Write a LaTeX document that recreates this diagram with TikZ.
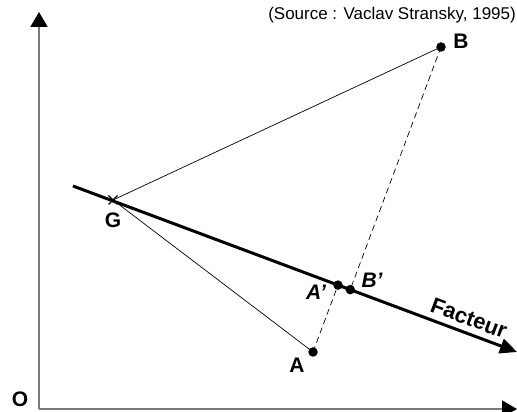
\documentclass[tikz,border=0pt]{standalone}
\usepackage{fontspec}
\setmainfont{Liberation Sans}
\usetikzlibrary{calc,arrows.meta}
\definecolor{AxisGray}{HTML}{7A7A7A}
\tikzset{
  axis/.style={AxisGray,line width=1.6pt,-{Triangle[length=15pt,width=17pt,color=black]}},
  factor/.style={line width=3pt,-{Triangle[length=17pt,width=15pt]}},
  dot/.style={circle,fill=black,inner sep=0pt,minimum size=9.5pt},
  proj/.style={dash pattern=on 6pt off 4pt,line width=0.7pt},
  link/.style={line width=0.7pt},
  lbl/.style={font=\fontsize{21}{23}\selectfont\bfseries,inner sep=0pt},
  plbl/.style={lbl,font=\fontsize{21}{23}\selectfont\bfseries\itshape}
}

\begin{document}
\begin{tikzpicture}[x=1pt,y=1pt]
  \useasboundingbox (0,0) rectangle (517,412);
  % axes
  \coordinate (O) at (39,3);
  \coordinate (ytip) at (39,400);
  \coordinate (xtip) at (517,3);
  \draw[axis] (O) -- (ytip);
  \draw[axis] (O) -- (xtip);
  \node[lbl,anchor=base] (lO) at (20,5) {O};
  \node[anchor=base east,inner sep=0pt,font=\fontsize{17}{20}\selectfont] (src) at (516,392) {(Source : Vaclav Stransky, 1995)};
  % factor axis
  \coordinate (fs) at (73,226);
  \coordinate (fe) at (517,60);
  \draw[factor] (fs) -- (fe);
  \node[lbl,font=\fontsize{22}{24}\selectfont\bfseries,rotate=-20.5] (lF) at (469,94) {Facteur};
  % points
  \coordinate (G) at (113,212);
  \node[dot] (A) at (313,60) {};
  \node[dot] (B) at (441,365) {};
  \node[dot] (Ap) at ($(fs)!(A.center)!(fe)$) {};
  \node[dot] (Bp) at ($(fs)!(B.center)!(fe)$) {};
  \draw[line width=1.2pt] ($(G)+(-4.5,-4.5)$) -- ($(G)+(4.5,4.5)$)
    ($(G)+(-4.5,4.5)$) -- ($(G)+(4.5,-4.5)$);
  \draw[link] (G) -- (B.center);
  \draw[link] (G) -- (A.center);
  \draw[proj] (A.center) -- (Ap.center);
  \draw[proj] (B.center) -- (Bp.center);
  % labels
  \node[lbl] (lB) at (461,371) {B};
  \node[lbl] (lG) at (113,192) {G};
  \node[lbl] (lA) at (297,47) {A};
  \node[plbl] (lAp) at (316,120) {A'};
  \node[plbl] (lBp) at (372,132) {B'};
\end{tikzpicture}
\end{document}
